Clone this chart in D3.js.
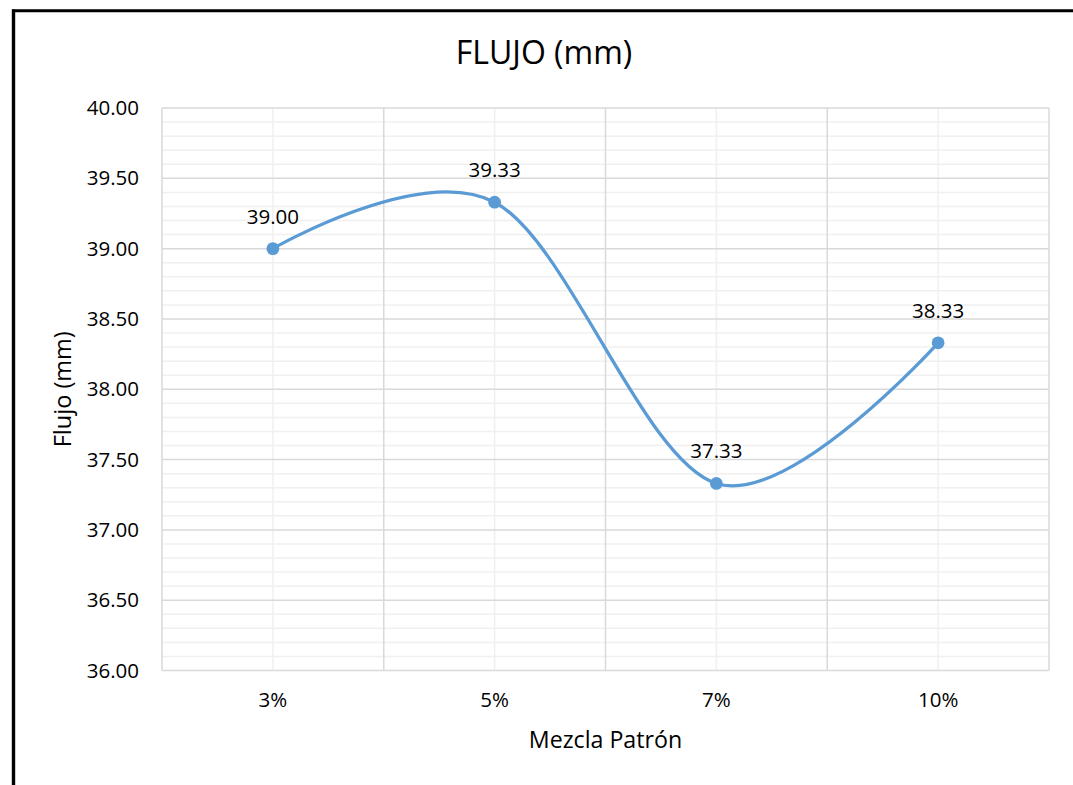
<!DOCTYPE html>
<html>
<head>
<meta charset="utf-8">
<script src="https://cdn.jsdelivr.net/npm/d3@7"></script>
<style>
  html, body { margin: 0; padding: 0; background: #fff; }
  svg { display: block; }
  text { font-family: "Open Sans", "Liberation Sans", sans-serif; fill: #000; }
</style>
</head>
<body>
<svg id="chart" width="1073" height="785"></svg>
<script>
// Flow test results per mix
const categories = ["3%", "5%", "7%", "10%"];
const flujo = [39.00, 39.33, 37.33, 38.33];
const yTicks = [36.00, 36.50, 37.00, 37.50, 38.00, 38.50, 39.00, 39.50, 40.00];
const yMinorStep = 0.1;

const W = 1073, H = 785;
const plot = { left: 162, right: 1049, top: 108, bottom: 670.5 };
const lineColor = "#5b9bd5";

const svg = d3.select("#chart");

// Outer frame (left and top edges)
svg.append("line").attr("x1", 13.5).attr("x2", 13.5).attr("y1", 9.5).attr("y2", H)
  .attr("stroke", "#000").attr("stroke-width", 3.4);
svg.append("line").attr("x1", 12).attr("x2", W).attr("y1", 10.7).attr("y2", 10.7)
  .attr("stroke", "#000").attr("stroke-width", 3);

const x = d3.scaleBand().domain(categories).range([plot.left, plot.right]).padding(0);
const y = d3.scaleLinear().domain([36, 40]).range([plot.bottom, plot.top]);

const g = svg.append("g");

// Minor horizontal gridlines
const minor = d3.range(36, 40.0001, yMinorStep).filter(v => Math.abs(v * 2 - Math.round(v * 2)) > 1e-6);
g.selectAll("line.minor-h").data(minor).join("line")
  .attr("x1", plot.left).attr("x2", plot.right)
  .attr("y1", d => y(d)).attr("y2", d => y(d))
  .attr("stroke", "#f0f0f0").attr("stroke-width", 1.5);

// Minor vertical gridlines at category centers
g.selectAll("line.minor-v").data(categories).join("line")
  .attr("x1", d => x(d) + x.bandwidth() / 2).attr("x2", d => x(d) + x.bandwidth() / 2)
  .attr("y1", plot.top).attr("y2", plot.bottom)
  .attr("stroke", "#f0f0f0").attr("stroke-width", 1.5);

// Major horizontal gridlines
g.selectAll("line.major-h").data(yTicks).join("line")
  .attr("x1", plot.left).attr("x2", plot.right)
  .attr("y1", d => y(d)).attr("y2", d => y(d))
  .attr("stroke", "#d9d9d9").attr("stroke-width", 1.5);

// Major vertical gridlines at category boundaries
const bounds = categories.map(c => x(c)).concat([plot.right]);
g.selectAll("line.major-v").data(bounds).join("line")
  .attr("x1", d => d).attr("x2", d => d)
  .attr("y1", plot.top).attr("y2", plot.bottom)
  .attr("stroke", "#d9d9d9").attr("stroke-width", 1.5);

// Y tick labels
const yAxis = d3.axisLeft(y).tickValues(yTicks).tickFormat(d3.format(".2f")).tickSize(0).tickPadding(23);
const ya = svg.append("g").attr("transform", `translate(${plot.left},0)`).call(yAxis);
ya.select(".domain").remove();
ya.selectAll("text").attr("font-size", 20.5).attr("fill", "#000")
  .style("font-family", '"Open Sans", sans-serif');

// X tick labels
const xAxis = d3.axisBottom(x).tickSize(0).tickPadding(22);
const xa = svg.append("g").attr("transform", `translate(0,${plot.bottom})`).call(xAxis);
xa.select(".domain").remove();
xa.selectAll("text").attr("font-size", 20.5).attr("fill", "#000")
  .style("font-family", '"Open Sans", sans-serif');

// Smoothed series line
const pts = categories.map((c, i) => [x(c) + x.bandwidth() / 2, y(flujo[i])]);
svg.append("path")
  .attr("d", d3.line().curve(d3.curveCardinal.tension(0))(pts))
  .attr("fill", "none").attr("stroke", lineColor).attr("stroke-width", 3.3)
  .attr("stroke-linecap", "round");

// Markers
svg.selectAll("circle.pt").data(pts).join("circle")
  .attr("cx", d => d[0]).attr("cy", d => d[1]).attr("r", 6.4)
  .attr("fill", lineColor);

// Value labels
svg.selectAll("text.val").data(categories).join("text")
  .attr("x", (c) => x(c) + x.bandwidth() / 2)
  .attr("y", (c, i) => y(flujo[i]) - 25)
  .attr("text-anchor", "middle").attr("font-size", 20.5)
  .text((c, i) => flujo[i].toFixed(2));

// Title
svg.append("text").attr("x", 544).attr("y", 64).attr("text-anchor", "middle")
  .attr("font-size", 32).text("FLUJO (mm)");

// Axis titles
svg.append("text").attr("x", 605.5).attr("y", 748).attr("text-anchor", "middle")
  .attr("font-size", 23.2).text("Mezcla Patrón");
svg.append("text").attr("transform", `translate(71,${(plot.top + plot.bottom) / 2}) rotate(-90)`)
  .attr("text-anchor", "middle").attr("font-size", 23.5).text("Flujo (mm)");
</script>
</body>
</html>
